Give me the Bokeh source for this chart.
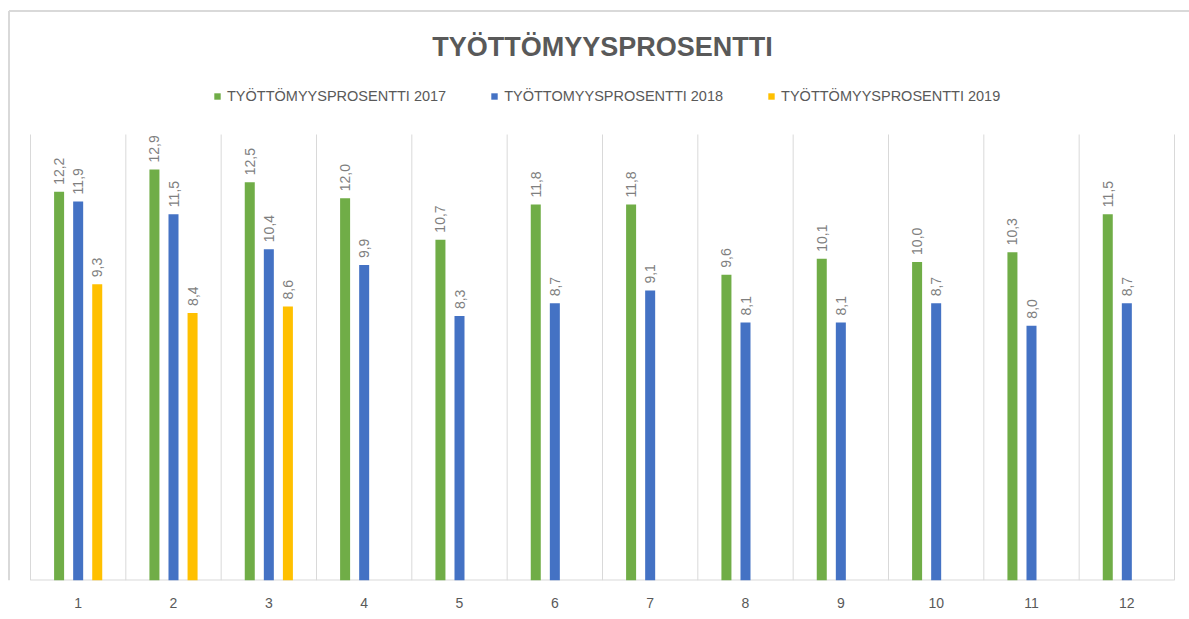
import math
from bokeh.plotting import figure
from bokeh.models import Range1d, FixedTicker, Label, Legend, LegendItem, ColumnDataSource
from bokeh.embed import file_html
from bokeh.resources import INLINE
from bokeh.core.properties import value

months = [str(i) for i in range(1, 13)]
rate_2017 = [12.2, 12.9, 12.5, 12.0, 10.7, 11.8, 11.8, 9.6, 10.1, 10.0, 10.3, 11.5]
rate_2018 = [11.9, 11.5, 10.4, 9.9, 8.3, 8.7, 9.1, 8.1, 8.1, 8.7, 8.0, 8.7]
rate_2019 = [9.3, 8.4, 8.6]
series_names = ["TYÖTTÖMYYSPROSENTTI 2017", "TYÖTTOMYYSPROSENTTI 2018", "TYÖTTÖMYYSPROSENTTI 2019"]
series_values = [rate_2017, rate_2018, rate_2019]
series_colors = ["#70AD47", "#4472C4", "#FFC000"]
series_offsets = [-0.2, 0.0, 0.2]
title_text = "TYÖTTÖMYYSPROSENTTI"
y_max = 14

FONT = "Liberation Sans"
W, H = 1189, 619
PLOT_L, PLOT_R, PLOT_T, PLOT_B = 30, 1174, 134, 580
cat_px = (PLOT_R - PLOT_L) / len(months)
unit_px = (PLOT_B - PLOT_T) / y_max

x0 = 0.5 - PLOT_L / cat_px
x1 = len(months) + 0.5 + (W - PLOT_R) / cat_px
y1 = PLOT_B / unit_px

def px_to_x(px):
    return x0 + px / cat_px

def py_to_y(py):
    return (PLOT_B - py) / unit_px

p = figure(width=W, height=H, output_backend="svg", toolbar_location=None,
           x_range=Range1d(x0, x1), y_range=Range1d(0, y1),
           min_border_left=0, min_border_right=0, min_border_top=0, min_border_bottom=H - PLOT_B)
p.outline_line_color = None
p.background_fill_color = "white"
p.border_fill_color = "white"
p.grid.visible = False
p.yaxis.visible = False

p.xaxis.ticker = FixedTicker(ticks=list(range(1, 13)))
p.xaxis.major_label_overrides = {i + 1: m for i, m in enumerate(months)}
p.xaxis.major_tick_line_color = None
p.xaxis.minor_tick_line_color = None
p.xaxis.axis_line_color = None
p.xaxis.major_label_text_font = FONT
p.xaxis.major_label_text_font_size = "14px"
p.xaxis.major_label_text_color = "#595959"
p.xaxis.major_label_standoff = 11

# outer chart border (top and left)
p.segment(x0=[px_to_x(8.5), px_to_x(8.5)], y0=[py_to_y(10.5), py_to_y(10.5)],
          x1=[x1, px_to_x(8.5)], y1=[py_to_y(10.5), 0], line_color="#d9d9d9", line_width=2)

# category separators and baseline
bounds = [0.5 + i for i in range(len(months) + 1)]
p.segment(x0=bounds, y0=[0] * len(bounds), x1=bounds, y1=[y_max] * len(bounds),
          line_color="#d9d9d9", line_width=1)
p.segment(x0=[0.5], y0=[0], x1=[len(months) + 0.5], y1=[0], line_color="#d9d9d9", line_width=2)

items = []
for name, vals, col, off in zip(series_names, series_values, series_colors, series_offsets):
    xs = [i + 1 + off for i in range(len(vals))]
    src = ColumnDataSource(dict(x=xs, top=vals, lab=[f"{v:.1f}".replace(".", ",") for v in vals]))
    r = p.vbar(x="x", top="top", width=0.105, bottom=0, source=src, fill_color=col, line_color=None)
    p.text(x="x", y="top", text="lab", source=src, angle=math.pi / 2, text_align="left",
           text_baseline="middle", y_offset=-7, text_font=value(FONT), text_font_size="14px",
           text_color="#7f7f7f")
    items.append(LegendItem(label=name, renderers=[r]))

legend = Legend(items=items, orientation="horizontal", location=(213, PLOT_B - 104),
                padding=0, margin=0, spacing=44, glyph_width=8, glyph_height=8,
                label_standoff=6, border_line_color=None, background_fill_alpha=0,
                label_text_font=FONT, label_text_font_size="14.5px", label_text_color="#595959")
p.add_layout(legend)

p.add_layout(Label(x=(len(months) + 1) / 2, y=py_to_y(46), text=title_text, text_align="center",
                   text_baseline="middle", text_font=FONT, text_font_size="27px",
                   text_font_style="bold", text_color="#595959"))

open("out.html", "w").write(file_html(p, INLINE))
